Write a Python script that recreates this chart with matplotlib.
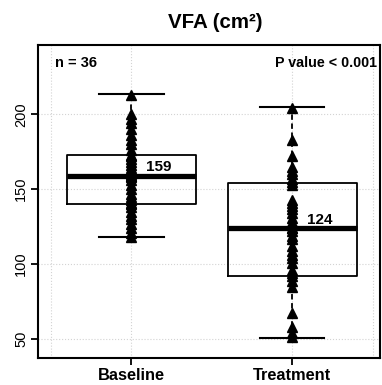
import matplotlib.pyplot as plt
import numpy as np

plt.rcParams['font.family'] = ['Liberation Sans', 'DejaVu Sans']

# Data
groups = ["Baseline", "Treatment"]
baseline = [213, 200, 197, 194, 190, 186, 183, 180, 176, 173,
            172, 170, 168, 166, 164, 162, 160, 159, 159, 158,
            156, 153, 150, 147, 145, 143, 141, 140, 138, 135,
            132, 130, 127, 124, 121, 118]
treatment = [204, 183, 172, 165, 162, 160, 157, 155, 153, 143,
             141, 139, 137, 134, 131, 128, 126, 124, 124, 122,
             119, 117, 112, 109, 106, 104, 101, 96, 94, 92,
             89, 85, 67, 58, 54, 51]

# box statistics
q1s = [140.4, 92]
meds = [159, 124]
q3s = [172.7, 154]
whislos = [118, 50.5]
whishis = [213.5, 204.6]
med_labels = ["159", "124"]

fig = plt.figure(figsize=(3.82, 3.85), dpi=100)
ax = fig.add_axes([38/382, 27/385, 342/382, 313/385])

# grid
for gx in [0.5, 1, 2, 2.5]:
    ax.axvline(gx, color='#d3d3d3', ls=':', lw=0.8, zorder=0)
for gy in [50, 100, 150, 200]:
    ax.axhline(gy, color='#d3d3d3', ls=':', lw=0.8, zorder=0)

stats = []
for i in range(2):
    stats.append(dict(med=meds[i], q1=q1s[i], q3=q3s[i],
                      whislo=whislos[i], whishi=whishis[i], fliers=[]))

ax.bxp(stats, positions=[1, 2], widths=0.8, showfliers=False,
       boxprops=dict(color='black', lw=1.3),
       medianprops=dict(color='black', lw=3.8, solid_capstyle='butt'),
       whiskerprops=dict(color='black', lw=1.3, ls=(0, (3, 2))),
       capprops=dict(color='black', lw=1.5),
       capwidths=0.4)

for i, vals in enumerate([baseline, treatment]):
    ax.plot(np.full(len(vals), i + 1), vals, '^', color='black',
            markersize=7.5, zorder=5)
    ax.text(i + 1.09, meds[i] + 3, med_labels[i], fontsize=11,
            fontweight='bold', va='baseline', ha='left', zorder=6)

ax.set_xlim(0.42, 2.545)
ax.set_ylim(37.3, 246.2)
ax.set_xticks([1, 2])
ax.set_xticklabels(groups, fontsize=11.8, fontweight='bold')
ax.set_yticks([50, 100, 150, 200])
ax.set_yticklabels(['50', '100', '150', '200'], fontsize=10.5,
                   rotation=90, va='center')
ax.tick_params(axis='both', direction='out', length=5, width=1.3)
ax.tick_params(axis='x', pad=2)
ax.tick_params(axis='y', pad=2)
for sp in ax.spines.values():
    sp.set_linewidth(1.5)

ax.text(0.05, 0.942, "n = 36", transform=ax.transAxes, fontsize=10.5,
        fontweight='bold', ha='left', va='center')
ax.text(0.992, 0.942, "P value < 0.001", transform=ax.transAxes,
        fontsize=10.3, fontweight='bold', ha='right', va='center')

fig.text(215/382, 1 - 23/385, "VFA (cm²)", fontsize=14.8,
         fontweight='bold', ha='center', va='center')

fig.savefig("out.png", dpi=100)
